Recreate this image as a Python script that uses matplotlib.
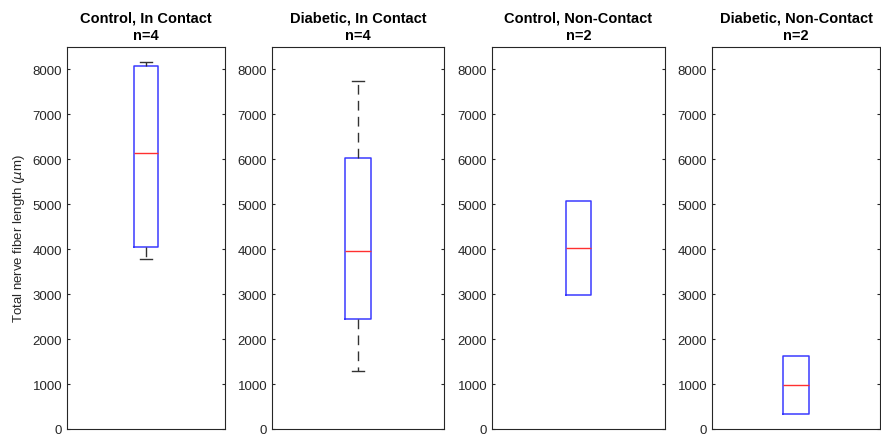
import numpy as np
import matplotlib
matplotlib.use('Agg')
from matplotlib import pyplot as plt

plt.rcParams['font.family'] = ['Liberation Sans', 'DejaVu Sans']

# raw fiber lengths (um) per group
titles = ['Control, In Contact', 'Diabetic, In Contact',
          'Control, Non-Contact', 'Diabetic, Non-Contact']
control_contact = [3780, 4300, 7980, 8170]
diabetic_contact = [1300, 3600, 4310, 7750]
control_noncontact = [2980, 5080]
diabetic_noncontact = [330, 1620]
groups = [control_contact, diabetic_contact, control_noncontact, diabetic_noncontact]

# axes boxes in pixels (left, right)
edges = [(67, 225), (272, 444), (492, 665), (712, 880)]
W, H = 881, 439
top, bottom = 48, 430

fig = plt.figure(figsize=(W / 100, H / 100), dpi=100)
grey = '#262626'


def box_stats(vals):
    # matlab style quartiles
    v = np.sort(np.asarray(vals, dtype=float))
    q1, med, q3 = np.percentile(v, [25, 50, 75], method='hazen')
    iqr = q3 - q1
    lo = v[v >= q1 - 1.5 * iqr].min()
    hi = v[v <= q3 + 1.5 * iqr].max()
    return dict(med=med, q1=q1, q3=q3, whislo=lo, whishi=hi, fliers=[])


for i, (vals, title) in enumerate(zip(groups, titles)):
    l, r = edges[i]
    ax = fig.add_axes([l / W, 1 - bottom / H, (r - l) / W, (bottom - top) / H])
    st = box_stats(vals)
    has_whisk = st['whislo'] < st['q1'] or st['whishi'] > st['q3']
    ax.bxp([st], positions=[1], widths=0.15, showcaps=has_whisk,
           capwidths=0.075, showfliers=False,
           boxprops=dict(color='#3a3aff', linewidth=1.1),
           medianprops=dict(color='#ff3030', linewidth=1.0),
           whiskerprops=dict(color='#333333', linewidth=1.0, linestyle=(0, (7, 4.5))),
           capprops=dict(color='#333333', linewidth=1.0))
    ax.set_xlim(0.5, 1.5)
    ax.set_ylim(0, 8500)
    ax.set_yticks(np.arange(0, 8001, 1000))
    ax.set_xticks([])
    ax.tick_params(axis='y', direction='in', length=2.5, width=0.8, colors=grey,
                   labelsize=9.5, right=True, left=True, labelcolor=grey)
    for s in ax.spines.values():
        s.set_color(grey)
        s.set_linewidth(0.8)
    ax.set_title(f'{title}\nn={len(vals)}', fontsize=10.5, fontweight='bold',
                 color='black', pad=6, linespacing=1.3)
    if i == 0:
        ax.set_ylabel('Total nerve fiber length ($\\mu$m)', fontsize=9.5, color=grey,
                      labelpad=4)

fig.savefig('out.png', dpi=100)
